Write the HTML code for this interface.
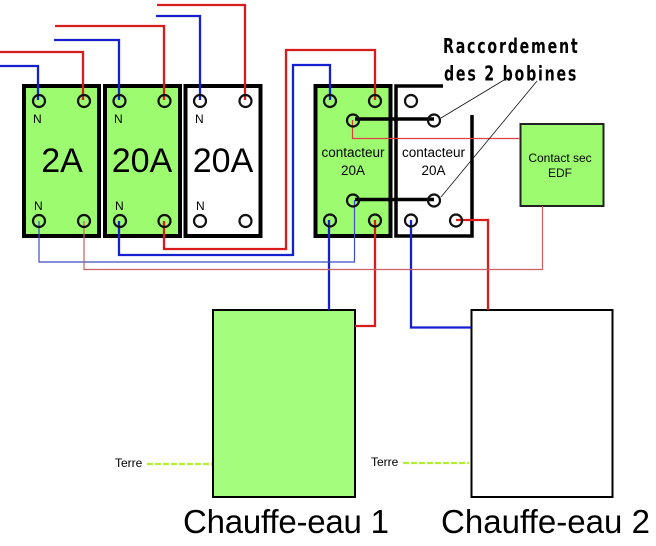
<!DOCTYPE html>
<html><head><meta charset="utf-8"><style>
html,body{margin:0;padding:0;background:#fff}
svg{display:block}
text{font-family:"Liberation Sans",sans-serif;fill:#000}
</style></head><body>
<svg width="656" height="546" viewBox="0 0 656 546" xmlns="http://www.w3.org/2000/svg">
<rect width="656" height="546" fill="#fff"/>
<g stroke="#000" stroke-width="4">
<rect x="24" y="86" width="75" height="150" fill="#9dfb70"/>
<rect x="105" y="86" width="75" height="150" fill="#9dfb70"/>
<rect x="185.500" y="86" width="75" height="150" fill="#fff"/>
<rect x="315.500" y="86" width="75" height="150" fill="#9dfb70"/>
</g>
<path d="M443 86H396V236H472V115" fill="none" stroke="#000" stroke-width="3.500"/>
<rect x="520.500" y="124" width="83" height="82" fill="#9dfb70" stroke="#222" stroke-width="2"/>
<rect x="213" y="310" width="142" height="187" fill="#a5fd7d" stroke="#000" stroke-width="2"/>
<rect x="471.500" y="310" width="141" height="187" fill="#fff" stroke="#000" stroke-width="2"/>

<g fill="none" stroke-width="2.300">
<g stroke="#d81c1c">
<path d="M0 52H83V100"/><path d="M55 26H164V100"/><path d="M157 5H245V100"/>
<path d="M164 221V249H286V50H375V100"/>
<path d="M375 220V326H355"/><path d="M456 220H488V310"/>
</g>
<g stroke="#1520cf">
<path d="M0 66H38V100"/><path d="M54 40H119V100"/><path d="M156 16H200V100"/>
<path d="M119 221V255H293V65H330V100"/>
<path d="M329 220V310"/><path d="M411 220V327.500H471"/>
</g>
</g>
<g fill="none" stroke-width="1.200">
<path d="M39 221V262H354.500V200" stroke="#3f4ac8"/>
<path d="M84 221V269.500H542.500V206" stroke="#cc5f5f"/>
<path d="M352.500 120V138.500H520" stroke="#e04040"/>
</g>
<g stroke="#000" stroke-width="3.500" fill="none">
<path d="M355 119H434"/><path d="M355 199.500H434"/>
</g>
<g fill="none" stroke="#111" stroke-width="2.200">
<circle cx="39" cy="101" r="6"/><circle cx="84" cy="101" r="6"/>
<circle cx="119.500" cy="101" r="6"/><circle cx="164.500" cy="101" r="6"/>
<circle cx="200" cy="101" r="6"/><circle cx="245.500" cy="101" r="6"/>
<circle cx="39" cy="221" r="6"/><circle cx="84" cy="221" r="6"/>
<circle cx="120" cy="221" r="6"/><circle cx="164.500" cy="221" r="6"/>
<circle cx="200" cy="221" r="6"/><circle cx="245.500" cy="221" r="6"/>
<circle cx="330" cy="101" r="6"/><circle cx="375" cy="101" r="6"/>
<circle cx="353" cy="120.500" r="6"/><circle cx="353" cy="200.500" r="6"/>
<circle cx="330" cy="220.500" r="6"/><circle cx="375" cy="220.500" r="6"/>
<circle cx="411" cy="101" r="6"/><circle cx="434" cy="120.500" r="6"/>
<circle cx="434" cy="200.500" r="6"/><circle cx="411" cy="220.500" r="6"/><circle cx="456" cy="220.500" r="6"/>
</g>
<path d="M504 80L441 118M537 81L441 197" stroke="#111" stroke-width="0.800" fill="none"/>
<path d="M147 464H212M403 463H469" stroke="#b0f030" stroke-width="2.200" stroke-dasharray="6 2" fill="none"/>

<g font-size="12">
<text x="33" y="123">N</text><text x="114" y="123">N</text><text x="195" y="123">N</text>
<text x="34" y="210">N</text><text x="115" y="210">N</text><text x="196" y="210">N</text>
</g>
<g font-size="34" text-anchor="middle">
<text x="62" y="172">2A</text><text x="142" y="172">20A</text><text x="223" y="172">20A</text>
</g>
<g font-size="13.500" text-anchor="middle" fill="#222">
<text x="353" y="157">contacteur</text><text x="353" y="175">20A</text>
<text x="433.500" y="157">contacteur</text><text x="433.500" y="175">20A</text>
</g>
<g font-size="12" text-anchor="middle">
<text x="560" y="162">Contact sec</text><text x="560" y="177">EDF</text>
</g>
<text x="115" y="467" font-size="12">Terre</text>
<text x="371" y="466" font-size="12">Terre</text>
<text x="183" y="533" font-size="33" textLength="206" lengthAdjust="spacing">Chauffe-eau 1</text>
<text x="441" y="533" font-size="33" textLength="209" lengthAdjust="spacing">Chauffe-eau 2</text>
<text transform="translate(443,53) scale(.71,1)" font-size="20" letter-spacing="2.500" font-weight="bold" style="font-family:'DejaVu Sans',sans-serif">Raccordement</text>
<text transform="translate(444,80.500) scale(.71,1)" font-size="20" letter-spacing="2.500" font-weight="bold" style="font-family:'DejaVu Sans',sans-serif">des 2 bobines</text>
</svg>
</body></html>
